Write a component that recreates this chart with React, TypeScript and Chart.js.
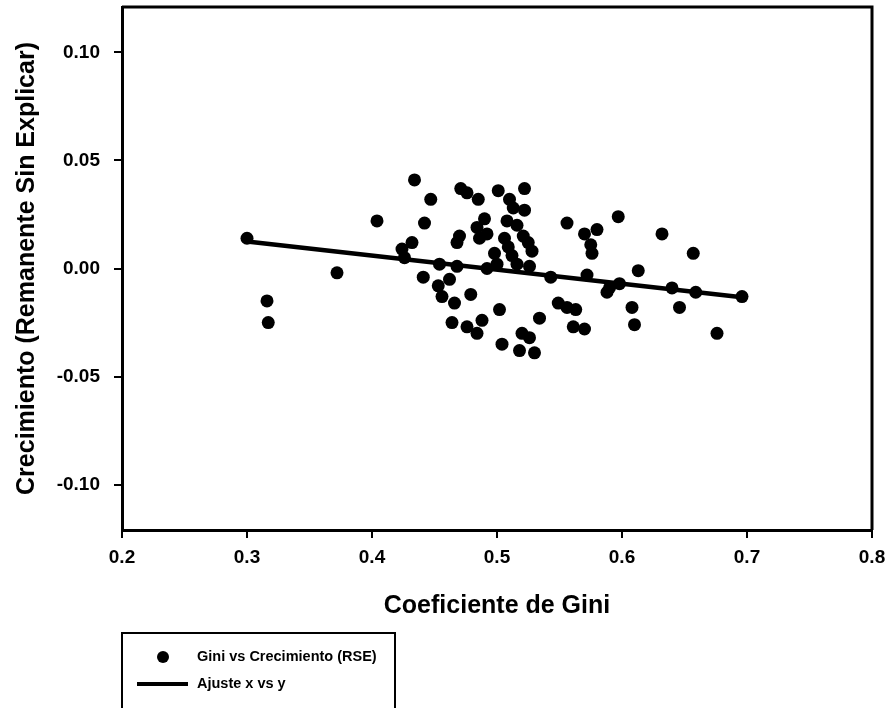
import React, { useEffect, useRef } from "react";
import { Chart, registerables } from "chart.js";

Chart.register(...registerables);

// Scatter: Gini coefficient vs unexplained growth residual
const giniX: number[] = [
  0.300, 0.316, 0.317, 0.372, 0.404, 0.424, 0.432, 0.426, 0.434, 0.447,
  0.442, 0.441, 0.453, 0.456, 0.462, 0.466, 0.479, 0.464, 0.476, 0.484,
  0.488, 0.454, 0.468, 0.471, 0.476, 0.485, 0.501, 0.522, 0.510, 0.513,
  0.522, 0.490, 0.508, 0.516, 0.484, 0.492, 0.486, 0.470, 0.468, 0.506,
  0.509, 0.521, 0.525, 0.528, 0.498, 0.512, 0.492, 0.500, 0.516, 0.526,
  0.543, 0.502, 0.504, 0.520, 0.526, 0.518, 0.530, 0.534, 0.549, 0.556,
  0.563, 0.561, 0.570, 0.556, 0.570, 0.580, 0.597, 0.575, 0.576, 0.632,
  0.657, 0.572, 0.613, 0.590, 0.588, 0.598, 0.640, 0.659, 0.608, 0.610,
  0.646, 0.676, 0.696,
];
const growthY: number[] = [
  0.014, -0.015, -0.025, -0.002, 0.022, 0.009, 0.012, 0.005, 0.041, 0.032,
  0.021, -0.004, -0.008, -0.013, -0.005, -0.016, -0.012, -0.025, -0.027, -0.030,
  -0.024, 0.002, 0.001, 0.037, 0.035, 0.032, 0.036, 0.037, 0.032, 0.028,
  0.027, 0.023, 0.022, 0.020, 0.019, 0.016, 0.014, 0.015, 0.012, 0.014,
  0.010, 0.015, 0.012, 0.008, 0.007, 0.006, 0.000, 0.002, 0.002, 0.001,
  -0.004, -0.019, -0.035, -0.030, -0.032, -0.038, -0.039, -0.023, -0.016, -0.018,
  -0.019, -0.027, -0.028, 0.021, 0.016, 0.018, 0.024, 0.011, 0.007, 0.016,
  0.007, -0.003, -0.001, -0.009, -0.011, -0.007, -0.009, -0.011, -0.018, -0.026,
  -0.018, -0.030, -0.013,
];

// Fitted regression line endpoints
const fitX: number[] = [0.300, 0.696];
const fitY: number[] = [0.0125, -0.0133];

const xTicks: number[] = [0.2, 0.3, 0.4, 0.5, 0.6, 0.7, 0.8];
const yTicks: number[] = [-0.1, -0.05, 0, 0.05, 0.1];

const seriesLabel = "Gini vs Crecimiento (RSE)";
const fitLabel = "Ajuste x vs y";
const xTitle = "Coeficiente de Gini";
const yTitle = "Crecimiento (Remanente Sin Explicar)";

const FONT = "'Liberation Sans', Arial, Helvetica, sans-serif";

export default function App() {
  const ref = useRef<HTMLCanvasElement | null>(null);

  useEffect(() => {
    if (!ref.current) return;

    const framePlugin = {
      id: "frameAndLegend",
      afterDraw(chart: any) {
        const { ctx, chartArea } = chart;
        ctx.save();
        // frame (top and right)
        ctx.strokeStyle = "#000";
        ctx.lineWidth = 3;
        ctx.beginPath();
        ctx.moveTo(chartArea.left, chartArea.top);
        ctx.lineTo(chartArea.right, chartArea.top);
        ctx.lineTo(chartArea.right, chartArea.bottom);
        ctx.stroke();

        // legend box
        ctx.lineWidth = 2;
        ctx.strokeRect(122, 633, 273, 100);
        ctx.fillStyle = "#000";
        ctx.beginPath();
        ctx.arc(163, 657, 6, 0, Math.PI * 2);
        ctx.fill();
        ctx.lineWidth = 4;
        ctx.beginPath();
        ctx.moveTo(137, 684);
        ctx.lineTo(188, 684);
        ctx.stroke();
        ctx.font = `bold 14.5px ${FONT}`;
        ctx.textBaseline = "middle";
        ctx.textAlign = "left";
        ctx.fillText(chart.data.datasets[0].label, 197, 657);
        ctx.fillText(chart.data.datasets[1].label, 197, 684);
        ctx.restore();
      },
    };

    const chart = new Chart(ref.current, {
      type: "scatter",
      data: {
        datasets: [
          {
            label: seriesLabel,
            data: giniX.map((x, i) => ({ x, y: growthY[i] })),
            backgroundColor: "#000",
            borderWidth: 0,
            pointRadius: 6.5,
            pointHoverRadius: 6.5,
          },
          {
            type: "line",
            label: fitLabel,
            data: fitX.map((x, i) => ({ x, y: fitY[i] })),
            borderColor: "#000",
            borderWidth: 4.5,
            pointRadius: 0,
            fill: false,
          } as any,
        ],
      },
      options: {
        responsive: false,
        animation: false,
        layout: { padding: { top: 7, right: 16, left: 0, bottom: 0 } },
        plugins: {
          legend: { display: false },
          tooltip: { enabled: false },
        },
        scales: {
          x: {
            type: "linear",
            position: "bottom",
            min: 0.2,
            max: 0.8,
            afterBuildTicks: (s: any) => {
              s.ticks = xTicks.map((v) => ({ value: v }));
            },
            afterFit: (s: any) => {
              s.height = 178;
              s.paddingLeft = 0;
              s.paddingRight = 0;
            },
            ticks: {
              callback: (v: any) => Number(v).toFixed(1),
              color: "#000",
              font: { family: FONT, size: 19, weight: "bold" },
              padding: 8,
              maxRotation: 0,
            },
            grid: {
              drawOnChartArea: false,
              drawTicks: true,
              tickLength: 8,
              color: "#000",
              lineWidth: 2,
            },
            border: { display: true, color: "#000", width: 3 },
            title: {
              display: true,
              text: xTitle,
              color: "#000",
              font: { family: FONT, size: 25, weight: "bold" },
              padding: { top: 0, bottom: 87 },
            },
          },
          y: {
            type: "linear",
            min: -0.121,
            max: 0.121,
            afterBuildTicks: (s: any) => {
              s.ticks = yTicks.map((v) => ({ value: v }));
            },
            afterFit: (s: any) => {
              s.width = 122;
              s.paddingTop = 0;
              s.paddingBottom = 0;
            },
            ticks: {
              callback: (v: any) => Number(v).toFixed(2),
              color: "#000",
              font: { family: FONT, size: 19, weight: "bold" },
              padding: 14,
            },
            grid: {
              drawOnChartArea: false,
              drawTicks: true,
              tickLength: 8,
              color: "#000",
              lineWidth: 2,
            },
            border: { display: true, color: "#000", width: 3 },
            title: {
              display: true,
              text: yTitle,
              color: "#000",
              font: { family: FONT, size: 25, weight: "bold" },
              padding: { top: 12, bottom: 0 },
            },
          },
        },
      },
      plugins: [framePlugin],
    });

    return () => chart.destroy();
  }, []);

  return (
    <div style={{ position: "absolute", left: 0, top: 0, width: 888, height: 708, background: "#fff" }}>
      <canvas ref={ref} width={888} height={708} style={{ display: "block" }} />
    </div>
  );
}
